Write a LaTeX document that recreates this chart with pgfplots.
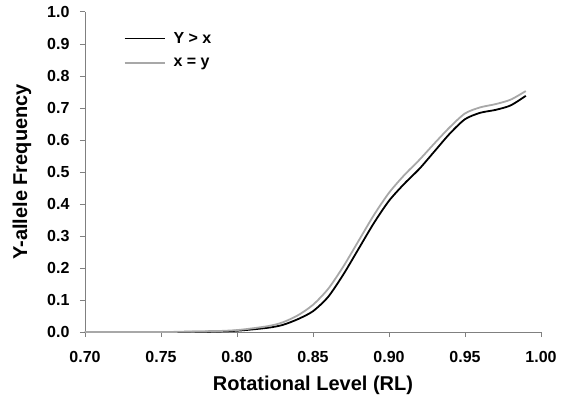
\documentclass[border=0pt]{standalone}
\usepackage{pgfplots}
\pgfplotsset{compat=1.18}
\usepackage{fontspec}
\setmainfont{Liberation Sans}
\definecolor{axgray}{RGB}{128,128,128}
\definecolor{curvegray}{RGB}{168,168,168}
\begin{document}
\begin{tikzpicture}
\begin{axis}[
  scale only axis,
  width=456bp, height=320bp,
  xmin=0.70, xmax=1.00, ymin=0, ymax=1.0,
  axis x line*=bottom, axis y line*=left,
  axis line style={axgray, line width=1pt},
  xtick={0.70,0.75,...,1.00}, ytick={0,0.1,...,1.0},
  tick align=outside, major tick length=5bp,
  tick style={axgray, line width=1pt},
  /pgf/number format/assume math mode=true,
  xticklabel style={/pgf/number format/.cd, fixed, fixed zerofill, precision=2},
  yticklabel style={/pgf/number format/.cd, fixed, fixed zerofill, precision=1},
  ticklabel style={font=\fontsize{16bp}{18bp}\selectfont\bfseries},
  xticklabel shift=11bp, yticklabel shift=7bp,
  xlabel={Rotational Level (RL)}, ylabel={Y-allele Frequency},
  label style={font=\fontsize{20bp}{22bp}\selectfont\bfseries},
  xlabel shift=6bp, ylabel shift=9bp,
  legend style={draw=none, fill=none, at={(0.078,0.95)}, anchor=north west,
    font=\fontsize{16bp}{18bp}\selectfont\bfseries, row sep=9bp, column sep=6bp},
  legend cell align=left,
  legend image code/.code={\draw[#1] (0bp,0bp) -- (40bp,0bp);},
  clip=false,
]
\addplot[black, line width=1.8pt, smooth, tension=0.45] coordinates {
  (0.70,0) (0.75,0) (0.78,0.001) (0.80,0.004) (0.82,0.013) (0.83,0.022)
  (0.84,0.040) (0.85,0.065) (0.86,0.11) (0.87,0.18) (0.88,0.26) (0.89,0.34)
  (0.90,0.41) (0.91,0.463) (0.92,0.51) (0.93,0.565) (0.94,0.62) (0.95,0.665)
  (0.96,0.685) (0.97,0.694) (0.98,0.708) (0.99,0.738)
};
\addlegendentry{Y > x}
\addplot[curvegray, line width=1.8pt, smooth, tension=0.45] coordinates {
  (0.70,0) (0.75,0) (0.78,0.002) (0.80,0.006) (0.82,0.018) (0.83,0.030)
  (0.84,0.052) (0.85,0.085) (0.86,0.135) (0.87,0.205) (0.88,0.285) (0.89,0.365)
  (0.90,0.435) (0.91,0.49) (0.92,0.538) (0.93,0.59) (0.94,0.64) (0.95,0.683)
  (0.96,0.702) (0.97,0.712) (0.98,0.726) (0.99,0.753)
};
\addlegendentry{x = y}
\end{axis}
\pgfresetboundingbox
\path[use as bounding box] (-85bp,-73bp) rectangle (480bp,332bp);
\end{tikzpicture}
\end{document}
